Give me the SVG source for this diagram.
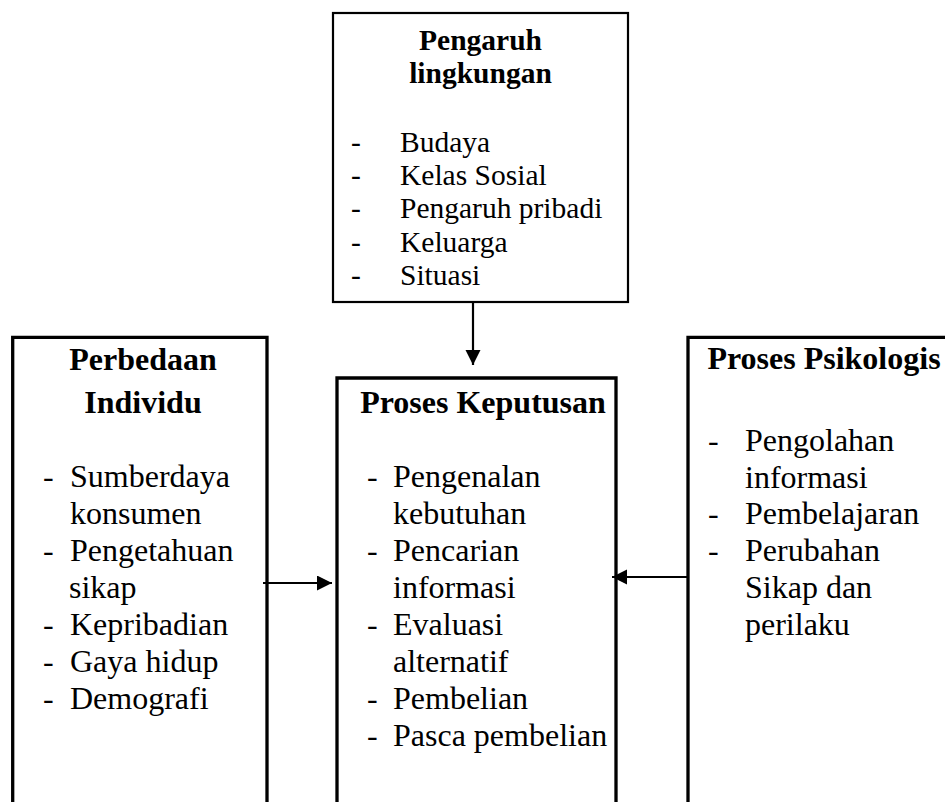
<svg xmlns="http://www.w3.org/2000/svg" width="945" height="802" viewBox="0 0 945 802">
  <defs>
    <marker id="arrowhead" markerUnits="userSpaceOnUse" markerWidth="16" markerHeight="16" refX="15" refY="7.5" orient="auto">
      <path d="M0,0 L15,7.5 L0,15 z" fill="#000"/>
    </marker>
    <style>
      text { font-family: "Liberation Serif", "Times New Roman", serif; fill: #000; }
      .title { font-weight: bold; font-size: 32px; text-anchor: middle; }
      .title-sm { font-weight: bold; font-size: 29.5px; text-anchor: middle; }
      .item { font-size: 32px; }
      .item-sm { font-size: 29.5px; }
      .frame { fill: none; stroke: #000; stroke-width: 3.3; }
      .frame-thin { fill: #fff; stroke: #000; stroke-width: 2.2; }
      .link { fill: none; stroke: #000; stroke-width: 2.2; marker-end: url(#arrowhead); }
    </style>
  </defs>
  <rect width="945" height="802" fill="#fff"/>

  <!-- environmental influences -->
  <g id="pengaruh-lingkungan">
    <rect class="frame-thin" x="333" y="13" width="295" height="289"/>
    <text class="title-sm" x="480.5" y="50">Pengaruh</text>
    <text class="title-sm" x="480.5" y="83">lingkungan</text>
    <text class="item-sm" x="351" y="152">-</text>
    <text class="item-sm" x="400" y="152">Budaya</text>
    <text class="item-sm" x="351" y="185">-</text>
    <text class="item-sm" x="400" y="185">Kelas Sosial</text>
    <text class="item-sm" x="351" y="218">-</text>
    <text class="item-sm" x="400" y="218">Pengaruh pribadi</text>
    <text class="item-sm" x="351" y="252">-</text>
    <text class="item-sm" x="400" y="252">Keluarga</text>
    <text class="item-sm" x="351" y="285">-</text>
    <text class="item-sm" x="400" y="285">Situasi</text>
  </g>

  <!-- individual differences -->
  <g id="perbedaan-individu">
    <path class="frame" d="M12.7,802 V337.3 H267 V802"/>
    <text class="title" x="143" y="370">Perbedaan</text>
    <text class="title" x="143" y="413">Individu</text>
    <text class="item" x="43" y="487">-</text>
    <text class="item" x="70" y="487">Sumberdaya</text>
    <text class="item" x="70" y="524">konsumen</text>
    <text class="item" x="43" y="561">-</text>
    <text class="item" x="70" y="561">Pengetahuan</text>
    <text class="item" x="69" y="598">sikap</text>
    <text class="item" x="43" y="635">-</text>
    <text class="item" x="70" y="635">Kepribadian</text>
    <text class="item" x="43" y="672">-</text>
    <text class="item" x="70" y="672">Gaya hidup</text>
    <text class="item" x="43" y="709">-</text>
    <text class="item" x="70" y="709">Demografi</text>
  </g>

  <!-- decision process -->
  <g id="proses-keputusan">
    <path class="frame" d="M337,802 V378 H616 V802"/>
    <text class="title" x="483" y="413">Proses Keputusan</text>
    <text class="item" x="367" y="487">-</text>
    <text class="item" x="393" y="487">Pengenalan</text>
    <text class="item" x="393" y="524">kebutuhan</text>
    <text class="item" x="367" y="561">-</text>
    <text class="item" x="393" y="561">Pencarian</text>
    <text class="item" x="393" y="598">informasi</text>
    <text class="item" x="367" y="635">-</text>
    <text class="item" x="393" y="635">Evaluasi</text>
    <text class="item" x="393" y="672">alternatif</text>
    <text class="item" x="367" y="709">-</text>
    <text class="item" x="393" y="709">Pembelian</text>
    <text class="item" x="367" y="746">-</text>
    <text class="item" x="393" y="746">Pasca pembelian</text>
  </g>

  <!-- psychological process -->
  <g id="proses-psikologis">
    <path class="frame" d="M688,802 V337.3 H948"/>
    <text class="title" x="824" y="369">Proses Psikologis</text>
    <text class="item" x="708" y="451">-</text>
    <text class="item" x="745" y="451">Pengolahan</text>
    <text class="item" x="745" y="488">informasi</text>
    <text class="item" x="708" y="524">-</text>
    <text class="item" x="745" y="524">Pembelajaran</text>
    <text class="item" x="708" y="561">-</text>
    <text class="item" x="745" y="561">Perubahan</text>
    <text class="item" x="745" y="598">Sikap dan</text>
    <text class="item" x="745" y="635">perilaku</text>
  </g>

  <!-- connectors -->
  <g id="connectors">
    <line class="link" x1="473" y1="302" x2="473" y2="365"/>
    <line class="link" x1="263" y1="583" x2="332" y2="583"/>
    <line class="link" x1="688" y1="577" x2="612" y2="577"/>
  </g>
</svg>
